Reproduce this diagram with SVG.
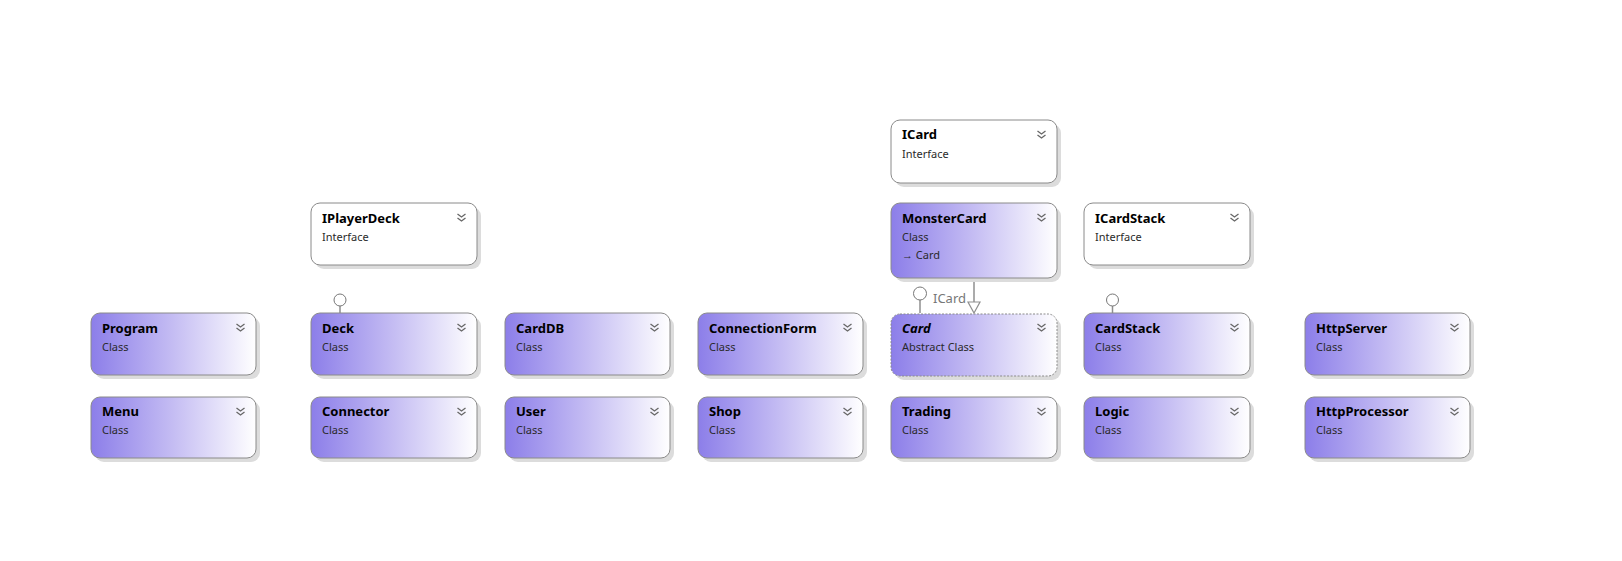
<svg xmlns="http://www.w3.org/2000/svg" width="1622" height="561" viewBox="0 0 1622 561">
<style>
.shadow{fill:#dcdcdc}
.cls{fill:url(#grad);stroke:#8a8a8a;stroke-width:1}
.itf{fill:#ffffff;stroke:#8a8a8a;stroke-width:1}
.abs{fill:url(#grad);stroke:#8a8a8a;stroke-width:1;stroke-dasharray:2,1.5}
.name{font-family:"Noto Sans","Open Sans",sans-serif;font-weight:bold;font-size:13px;fill:#000}
.sub{font-family:"Noto Sans","Open Sans",sans-serif;font-size:11px;fill:#2a2a2a}
.chev{fill:none;stroke:#666;stroke-width:1.3}
.conn{fill:none;stroke:#8f8f8f;stroke-width:1.5}
.lolly{fill:#fff;stroke:#777;stroke-width:1}
.lbl{font-family:"Noto Sans","Open Sans",sans-serif;font-size:13px;fill:#777}
</style>
<defs>
<linearGradient id="grad" x1="0" y1="0" x2="1" y2="0">
<stop offset="0" stop-color="#8c7ee9"/>
<stop offset="0.5" stop-color="#c5bdf3"/>
<stop offset="1" stop-color="#ffffff"/>
</linearGradient>
<g id="chv">
<path class="chev" d="M-4,-3 L0,0 L4,-3 M-4,1 L0,4 L4,1"/>
</g>
</defs>
<rect width="1622" height="561" fill="#ffffff"/>

<g id="connectors">
<line class="conn" x1="974" y1="278" x2="974" y2="302"/>
<path d="M968,302 L980,302 L974,313 Z" fill="#fff" stroke="#8f8f8f" stroke-width="1.2"/>
<line class="conn" x1="920" y1="300" x2="920" y2="313"/>
<circle class="lolly" cx="920" cy="293.5" r="6.5"/>
<text class="lbl" x="933" y="303">ICard</text>
<line class="conn" x1="340" y1="306" x2="340" y2="313"/>
<circle class="lolly" cx="340" cy="300" r="6"/>
<line class="conn" x1="1112.5" y1="306" x2="1112.5" y2="313"/>
<circle class="lolly" cx="1112.5" cy="300" r="6"/>
</g>

<g id="ICard">
<rect class="shadow" x="895" y="124" width="166" height="63" rx="9"/>
<rect class="itf" x="891" y="120" width="166" height="63" rx="9"/>
<text class="name" x="902" y="139">ICard</text>
<text class="sub" x="902" y="158">Interface</text>
<use href="#chv" x="1041.5" y="134"/>
</g>

<g id="IPlayerDeck">
<rect class="shadow" x="315" y="207" width="166" height="62" rx="9"/>
<rect class="itf" x="311" y="203" width="166" height="62" rx="9"/>
<text class="name" x="322" y="223">IPlayerDeck</text>
<text class="sub" x="322" y="241">Interface</text>
<use href="#chv" x="461.5" y="217"/>
</g>

<g id="MonsterCard">
<rect class="shadow" x="895" y="207" width="166" height="75" rx="9"/>
<rect class="cls" x="891" y="203" width="166" height="75" rx="9"/>
<text class="name" x="902" y="223">MonsterCard</text>
<text class="sub" x="902" y="241">Class</text>
<text class="sub" x="902" y="259">→ Card</text>
<use href="#chv" x="1041.5" y="217"/>
</g>

<g id="ICardStack">
<rect class="shadow" x="1088" y="207" width="166" height="62" rx="9"/>
<rect class="itf" x="1084" y="203" width="166" height="62" rx="9"/>
<text class="name" x="1095" y="223">ICardStack</text>
<text class="sub" x="1095" y="241">Interface</text>
<use href="#chv" x="1234.5" y="217"/>
</g>

<g id="Program">
<rect class="shadow" x="95" y="317" width="165" height="62" rx="9"/>
<rect class="cls" x="91" y="313" width="165" height="62" rx="9"/>
<text class="name" x="102" y="333">Program</text>
<text class="sub" x="102" y="351">Class</text>
<use href="#chv" x="240.5" y="327"/>
</g>
<g id="Deck">
<rect class="shadow" x="315" y="317" width="166" height="62" rx="9"/>
<rect class="cls" x="311" y="313" width="166" height="62" rx="9"/>
<text class="name" x="322" y="333">Deck</text>
<text class="sub" x="322" y="351">Class</text>
<use href="#chv" x="461.5" y="327"/>
</g>
<g id="CardDB">
<rect class="shadow" x="509" y="317" width="165" height="62" rx="9"/>
<rect class="cls" x="505" y="313" width="165" height="62" rx="9"/>
<text class="name" x="516" y="333">CardDB</text>
<text class="sub" x="516" y="351">Class</text>
<use href="#chv" x="654.5" y="327"/>
</g>
<g id="ConnectionForm">
<rect class="shadow" x="702" y="317" width="165" height="62" rx="9"/>
<rect class="cls" x="698" y="313" width="165" height="62" rx="9"/>
<text class="name" x="709" y="333">ConnectionForm</text>
<text class="sub" x="709" y="351">Class</text>
<use href="#chv" x="847.5" y="327"/>
</g>
<g id="Card">
<rect class="shadow" x="895" y="318" width="166" height="62" rx="9"/>
<rect class="abs" x="891" y="314" width="166" height="62" rx="9"/>
<text class="name" x="902" y="333" font-style="italic">Card</text>
<text class="sub" x="902" y="351">Abstract Class</text>
<use href="#chv" x="1041.5" y="327"/>
</g>
<g id="CardStack">
<rect class="shadow" x="1088" y="317" width="166" height="62" rx="9"/>
<rect class="cls" x="1084" y="313" width="166" height="62" rx="9"/>
<text class="name" x="1095" y="333">CardStack</text>
<text class="sub" x="1095" y="351">Class</text>
<use href="#chv" x="1234.5" y="327"/>
</g>
<g id="HttpServer">
<rect class="shadow" x="1309" y="317" width="165" height="62" rx="9"/>
<rect class="cls" x="1305" y="313" width="165" height="62" rx="9"/>
<text class="name" x="1316" y="333">HttpServer</text>
<text class="sub" x="1316" y="351">Class</text>
<use href="#chv" x="1454.5" y="327"/>
</g>

<g id="Menu">
<rect class="shadow" x="95" y="401" width="165" height="61" rx="9"/>
<rect class="cls" x="91" y="397" width="165" height="61" rx="9"/>
<text class="name" x="102" y="416">Menu</text>
<text class="sub" x="102" y="434">Class</text>
<use href="#chv" x="240.5" y="411"/>
</g>
<g id="Connector">
<rect class="shadow" x="315" y="401" width="166" height="61" rx="9"/>
<rect class="cls" x="311" y="397" width="166" height="61" rx="9"/>
<text class="name" x="322" y="416">Connector</text>
<text class="sub" x="322" y="434">Class</text>
<use href="#chv" x="461.5" y="411"/>
</g>
<g id="User">
<rect class="shadow" x="509" y="401" width="165" height="61" rx="9"/>
<rect class="cls" x="505" y="397" width="165" height="61" rx="9"/>
<text class="name" x="516" y="416">User</text>
<text class="sub" x="516" y="434">Class</text>
<use href="#chv" x="654.5" y="411"/>
</g>
<g id="Shop">
<rect class="shadow" x="702" y="401" width="165" height="61" rx="9"/>
<rect class="cls" x="698" y="397" width="165" height="61" rx="9"/>
<text class="name" x="709" y="416">Shop</text>
<text class="sub" x="709" y="434">Class</text>
<use href="#chv" x="847.5" y="411"/>
</g>
<g id="Trading">
<rect class="shadow" x="895" y="401" width="166" height="61" rx="9"/>
<rect class="cls" x="891" y="397" width="166" height="61" rx="9"/>
<text class="name" x="902" y="416">Trading</text>
<text class="sub" x="902" y="434">Class</text>
<use href="#chv" x="1041.5" y="411"/>
</g>
<g id="Logic">
<rect class="shadow" x="1088" y="401" width="166" height="61" rx="9"/>
<rect class="cls" x="1084" y="397" width="166" height="61" rx="9"/>
<text class="name" x="1095" y="416">Logic</text>
<text class="sub" x="1095" y="434">Class</text>
<use href="#chv" x="1234.5" y="411"/>
</g>
<g id="HttpProcessor">
<rect class="shadow" x="1309" y="401" width="165" height="61" rx="9"/>
<rect class="cls" x="1305" y="397" width="165" height="61" rx="9"/>
<text class="name" x="1316" y="416">HttpProcessor</text>
<text class="sub" x="1316" y="434">Class</text>
<use href="#chv" x="1454.5" y="411"/>
</g>
</svg>
